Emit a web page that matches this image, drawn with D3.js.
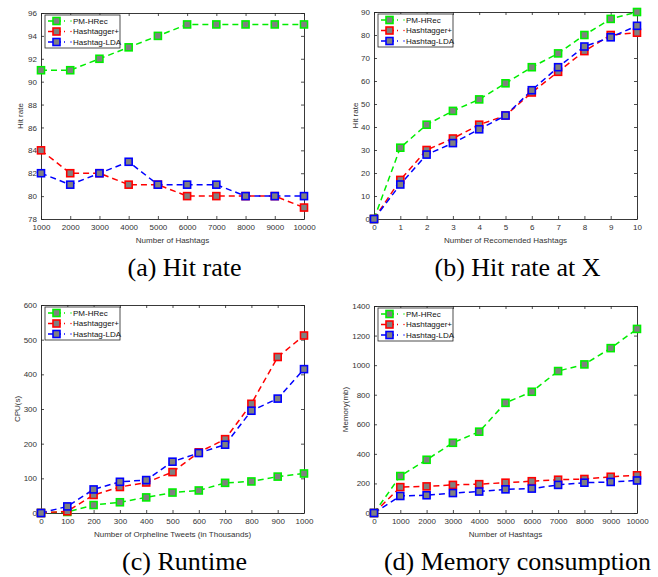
<!DOCTYPE html>
<html>
<head>
<meta charset="utf-8">
<script src="https://cdn.jsdelivr.net/npm/d3@7"></script>
<style>
  body { margin: 0; background: white; }
  .tick text, .axLabel { font-family: 'Liberation Sans', Arial, sans-serif; fill: #333; }
  .legText { font-family: 'Liberation Sans', Arial, sans-serif; font-size: 8px; fill: #111; }
  .caption { font-family: 'Liberation Serif', 'Times New Roman', serif; font-size: 26px; fill: #000; }
</style>
</head>
<body>
<div id="chart"></div>
<script>
const seriesNames = ['PM-HRec', 'Hashtagger+', 'Hashtag-LDA'];
const seriesColors = ['#00ee00', '#ff0000', '#0000ff'];

// (a) hit rate
const hashtagsA = [1000, 2000, 3000, 4000, 5000, 6000, 7000, 8000, 9000, 10000];
const hitPm = [91, 91, 92, 93, 94, 95, 95, 95, 95, 95];
const hitHt = [84, 82, 82, 81, 81, 80, 80, 80, 80, 79];
const hitLda = [82, 81, 82, 83, 81, 81, 81, 80, 80, 80];

// (b) hit rate at X
const recB = [0, 1, 2, 3, 4, 5, 6, 7, 8, 9, 10];
const atxPm = [0, 31, 41, 47, 52, 59, 66, 72, 80, 87, 90];
const atxHt = [0, 17, 30, 35, 41, 45, 55, 64, 73, 80, 81];
const atxLda = [0, 15, 28, 33, 39, 45, 56, 66, 75, 79, 84];

// (c) runtime
const tweetsC = [0, 100, 200, 300, 400, 500, 600, 700, 800, 900, 1000];
const cpuPm = [0, 3, 23, 31, 45, 59, 65, 87, 91, 105, 114];
const cpuHt = [0, 5, 52, 75, 88, 118, 175, 213, 315, 450, 512];
const cpuLda = [0, 19, 68, 90, 95, 148, 173, 197, 295, 330, 415];

// (d) memory
const hashtagsD = [0, 1000, 2000, 3000, 4000, 5000, 6000, 7000, 8000, 9000, 10000];
const memPm = [0, 250, 360, 475, 550, 745, 820, 960, 1005, 1115, 1245];
const memHt = [0, 175, 180, 190, 195, 205, 215, 225, 230, 245, 255];
const memLda = [0, 115, 120, 135, 145, 160, 165, 190, 205, 210, 220];

const panels = [
  { box: [41, 13, 304, 219], x: hashtagsA, ys: [hitPm, hitHt, hitLda], xDom: [1000, 10000], yDom: [78, 96],
    xTicks: hashtagsA, yTicks: d3.range(78, 97, 2), xLabel: 'Number of Hashtags', yLabel: 'Hit rate', yLabX: 20,
    caption: '(a) Hit rate' },
  { box: [374, 12, 637, 219], x: recB, ys: [atxPm, atxHt, atxLda], xDom: [0, 10], yDom: [0, 90],
    xTicks: recB, yTicks: d3.range(0, 91, 10), xLabel: 'Number of Recomended Hashtags', yLabel: 'Hit rate', yLabX: 355,
    caption: '(b) Hit rate at X' },
  { box: [41, 305, 304, 513], x: tweetsC, ys: [cpuPm, cpuHt, cpuLda], xDom: [0, 1000], yDom: [0, 600],
    xTicks: tweetsC, yTicks: d3.range(0, 601, 100), xLabel: 'Number of Orpheline Tweets (in Thousands)', yLabel: 'CPU(s)', yLabX: 17,
    caption: '(c) Runtime' },
  { box: [374, 306, 637, 513], x: hashtagsD, ys: [memPm, memHt, memLda], xDom: [0, 10000], yDom: [0, 1400],
    xTicks: hashtagsD, yTicks: d3.range(0, 1401, 200), xLabel: 'Number of Hashtags', yLabel: 'Memory(mb)', yLabX: 345,
    caption: '(d) Memory consumption' }
];

const svg = d3.select('#chart').append('svg')
    .attr('width', 658)
    .attr('height', 577);

const fmt = d3.format('d');

panels.forEach(function(p) {
  const [x0, y0, x1, y1] = p.box;
  const xScale = d3.scaleLinear().domain(p.xDom).range([x0, x1]);
  const yScale = d3.scaleLinear().domain(p.yDom).range([y1, y0]);
  const g = svg.append('g');

  // axes with inward ticks, mirrored on top/right like matlab's box
  const axB = g.append('g').attr('transform', 'translate(0,' + y1 + ')')
      .call(d3.axisBottom(xScale).tickValues(p.xTicks).tickFormat(fmt).tickSizeInner(-3).tickSizeOuter(0).tickPadding(5));
  const axT = g.append('g').attr('transform', 'translate(0,' + y0 + ')')
      .call(d3.axisTop(xScale).tickValues(p.xTicks).tickSizeInner(-3).tickSizeOuter(0).tickFormat(''));
  const axL = g.append('g').attr('transform', 'translate(' + x0 + ',0)')
      .call(d3.axisLeft(yScale).tickValues(p.yTicks).tickFormat(fmt).tickSizeInner(-3).tickSizeOuter(0).tickPadding(4));
  const axR = g.append('g').attr('transform', 'translate(' + x1 + ',0)')
      .call(d3.axisRight(yScale).tickValues(p.yTicks).tickSizeInner(-3).tickSizeOuter(0).tickFormat(''));
  [axB, axT, axL, axR].forEach(function(a) {
    a.selectAll('.domain').attr('stroke', '#222').attr('stroke-width', 0.9);
    a.selectAll('.tick line').attr('stroke', '#222').attr('stroke-width', 0.8);
    a.selectAll('.tick text').style('font-size', '8px').attr('fill', '#333');
  });

  // axis labels
  g.append('text').attr('class', 'axLabel')
      .attr('x', (x0 + x1) / 2).attr('y', y1 + 24)
      .attr('text-anchor', 'middle').style('font-size', '8px')
      .text(p.xLabel);
  g.append('text').attr('class', 'axLabel')
      .attr('transform', 'translate(' + p.yLabX + ',' + (y0 + y1) / 2 + ') rotate(-90)')
      .attr('text-anchor', 'middle').attr('dy', '0.35em').style('font-size', '8px')
      .text(p.yLabel);

  // lines + markers
  const line = d3.line()
      .x((d) => xScale(d[0]))
      .y((d) => yScale(d[1]));
  p.ys.forEach(function(ys, si) {
    const pts = p.x.map((xv, i) => [xv, ys[i]]);
    g.append('path')
        .attr('fill', 'none')
        .attr('stroke', seriesColors[si])
        .attr('stroke-width', 1.5)
        .attr('stroke-dasharray', '6,4')
        .attr('d', line(pts));
  });
  p.ys.forEach(function(ys, si) {
    const pts = p.x.map((xv, i) => [xv, ys[i]]);
    g.selectAll(null)
        .data(pts)
        .enter()
        .append('rect')
        .attr('x', (d) => xScale(d[0]) - 3.5)
        .attr('y', (d) => yScale(d[1]) - 3.5)
        .attr('width', 7)
        .attr('height', 7)
        .attr('fill', '#808080')
        .attr('stroke', seriesColors[si])
        .attr('stroke-width', 1.6);
  });

  // legend
  const lx = x0 + 4, ly = y0 + 2;
  const leg = g.append('g').attr('transform', 'translate(' + lx + ',' + ly + ')');
  leg.append('rect')
      .attr('width', 75).attr('height', 33)
      .attr('fill', 'white').attr('stroke', '#222').attr('stroke-width', 0.8);
  seriesNames.forEach(function(name, i) {
    const ry = 6 + i * 10.5;
    leg.append('line')
        .attr('x1', 3).attr('x2', 20).attr('y1', ry).attr('y2', ry)
        .attr('stroke', seriesColors[i]).attr('stroke-width', 1.5)
        .attr('stroke-dasharray', '5,3');
    leg.append('rect')
        .attr('x', 11.5 - 3.5).attr('y', ry - 3.5).attr('width', 7).attr('height', 7)
        .attr('fill', '#808080').attr('stroke', seriesColors[i]).attr('stroke-width', 1.6);
    leg.append('circle')
        .attr('cx', 26).attr('cy', ry).attr('r', 0.7).attr('fill', seriesColors[i]);
    leg.append('text').attr('class', 'legText')
        .attr('x', 28).attr('y', ry).attr('dy', '0.35em')
        .text(name);
  });

  // caption
  svg.append('text').attr('class', 'caption')
      .attr('x', (x0 + x1) / 2 + 12).attr('y', y1 + 57)
      .attr('text-anchor', 'middle')
      .text(p.caption);
});
</script>
</body>
</html>
